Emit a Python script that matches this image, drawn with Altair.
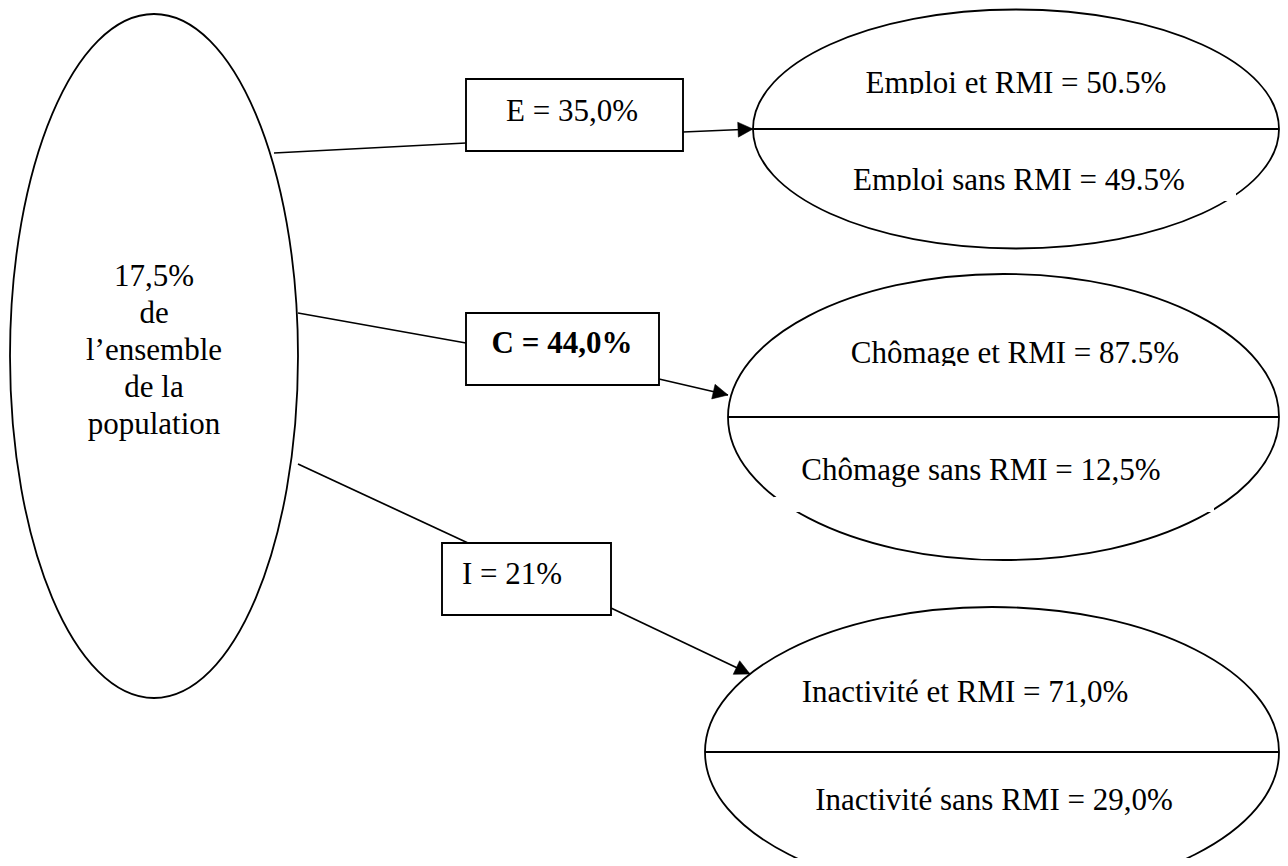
import math
import altair as alt
import pandas as pd

# ---------------- data (page-pixel layout of the diagram) ----------------
# ellipses: central population + three outcome ellipses
ell_name = ["Population", "Emploi", "Chômage", "Inactivité"]
ell_cx = [154, 1016, 1003.5, 992]
ell_cy = [356, 129, 417, 752]
ell_rx = [144, 263, 275.5, 287]
ell_ry = [342, 119.5, 143, 145]

# text of the central ellipse
center_lines = ["17,5%", "de", "l\u2019ensemble", "de la", "population"]
center_base = [286, 323, 360, 397, 434]

# branch boxes
box_label = ["E = 35,0%", "C = 44,0%", "I = 21%"]
box_bold = [False, True, False]
box_x0 = [466, 466, 442]
box_x1 = [683, 659, 611]
box_y0 = [79, 313, 543]
box_y1 = [151, 385, 615]
box_text_x = [572, 562, 512]
box_text_base = [121, 353, 584]

# connectors from the central ellipse to the boxes
conn_x = [274, 298, 298]
conn_y = [153, 313, 464]
conn_x2 = [466, 466, 468]
conn_y2 = [143, 343, 543]

# arrows from the boxes to the outcome ellipses
arr_x = [683, 659, 611]
arr_y = [132, 379, 608]
arr_tip_x = [753, 728, 750]
arr_tip_y = [129, 395, 674]

# texts inside the outcome ellipses
out_label = [
    "Emploi et RMI = 50.5%", "Emploi sans RMI = 49.5%",
    "Chômage et RMI = 87.5%", "Chômage sans RMI = 12,5%",
    "Inactivité et RMI = 71,0%", "Inactivité sans RMI = 29,0%",
]
out_x = [1016, 1019, 1015, 981, 965, 994]
out_base = [93, 190, 363, 480, 702, 810]

# white masks (clipped text boxes of the original)
mask_x0 = [840, 840, 840, 774]
mask_x1 = [1200, 1236, 1195, 1214]
mask_y0 = [94, 191, 366, 497]
mask_y1 = [104, 201, 376, 512]

FONT = "Liberation Serif"
FS = 31
W, H = 1272, 850

# ---------------- tables ----------------
K = 0.5522847


def ellipse_path(ratio):
    a, b = 1.0, ratio
    pts = [
        ("M", [a, 0]),
        ("C", [a, K * b, K * a, b, 0, b]),
        ("C", [-K * a, b, -a, K * b, -a, 0]),
        ("C", [-a, -K * b, -K * a, -b, 0, -b]),
        ("C", [K * a, -b, a, -K * b, a, 0]),
    ]
    s = " ".join(c + " " + " ".join(f"{v:.4f}" for v in vals) for c, vals in pts)
    return s + " Z"


ell_df = pd.DataFrame({
    "name": ell_name, "x": ell_cx, "y": ell_cy,
    "path": [ellipse_path(ry / rx) for rx, ry in zip(ell_rx, ell_ry)],
    "size": [(2 * rx) ** 2 for rx in ell_rx],
})

div_df = pd.DataFrame({
    "x": [c - r for c, r in zip(ell_cx[1:], ell_rx[1:])],
    "x2": [c + r for c, r in zip(ell_cx[1:], ell_rx[1:])],
    "y": ell_cy[1:], "y2": ell_cy[1:],
})

line_df = pd.DataFrame({
    "x": conn_x + arr_x, "y": conn_y + arr_y,
    "x2": conn_x2 + arr_tip_x, "y2": conn_y2 + arr_tip_y,
})

head_df = pd.DataFrame({
    "x": arr_tip_x, "y": arr_tip_y,
    "angle": [math.degrees(math.atan2(ty - y, tx - x)) % 360
              for x, y, tx, ty in zip(arr_x, arr_y, arr_tip_x, arr_tip_y)],
    "path": ["M 0 0 L -1 -0.5 L -1 0.5 Z"] * 3,
})

box_df = pd.DataFrame({
    "label": box_label, "bold": box_bold,
    "x": box_x0, "x2": box_x1, "y": box_y0, "y2": box_y1,
    "tx": box_text_x, "ty": box_text_base,
})

center_df = pd.DataFrame({"label": center_lines, "x": [154] * 5, "y": center_base})
out_df = pd.DataFrame({"label": out_label, "x": out_x, "y": out_base})
mask_df = pd.DataFrame({"x": mask_x0, "x2": mask_x1, "y": mask_y0, "y2": mask_y1})

# ---------------- chart ----------------
xs = alt.Scale(domain=[8, 8 + W], nice=False, zero=False)
ys = alt.Scale(domain=[8 + H, 8], nice=False, zero=False)


def X(f):
    return alt.X(f, type="quantitative", scale=xs, axis=None)


def Y(f):
    return alt.Y(f, type="quantitative", scale=ys, axis=None)


ellipses = alt.Chart(ell_df).mark_point(
    fill="white", stroke="black", strokeWidth=1.8, opacity=1, fillOpacity=1
).encode(
    x=X("x"), y=Y("y"),
    shape=alt.Shape("path:N", scale=None),
    size=alt.Size("size:Q", scale=None),
)

dividers = alt.Chart(div_df).mark_rule(color="black", strokeWidth=1.9).encode(
    x=X("x"), x2="x2", y=Y("y"), y2="y2"
)

lines = alt.Chart(line_df).mark_rule(color="black", strokeWidth=1.7).encode(
    x=X("x"), x2="x2", y=Y("y"), y2="y2"
)

heads = alt.Chart(head_df).mark_point(
    fill="black", stroke="black", strokeWidth=0.5, opacity=1, filled=True, size=900
).encode(
    x=X("x"), y=Y("y"),
    shape=alt.Shape("path:N", scale=None),
    angle=alt.Angle("angle:Q", scale=None),
)

boxes = alt.Chart(box_df).mark_rect(
    fill="white", stroke="black", strokeWidth=1.9
).encode(x=X("x"), x2="x2", y=Y("y"), y2="y2")

box_text = alt.Chart(box_df).transform_filter("!datum.bold").mark_text(
    font=FONT, fontSize=FS, baseline="alphabetic", align="center", color="black"
).encode(x=X("tx"), y=Y("ty"), text="label:N")

box_text_bold = alt.Chart(box_df).transform_filter("datum.bold").mark_text(
    font=FONT, fontSize=FS, fontWeight="bold", baseline="alphabetic",
    align="center", color="black"
).encode(x=X("tx"), y=Y("ty"), text="label:N")

center_text = alt.Chart(center_df).mark_text(
    font=FONT, fontSize=FS, baseline="alphabetic", align="center", color="black"
).encode(x=X("x"), y=Y("y"), text="label:N")

out_text = alt.Chart(out_df).mark_text(
    font=FONT, fontSize=FS, baseline="alphabetic", align="center", color="black"
).encode(x=X("x"), y=Y("y"), text="label:N")

masks = alt.Chart(mask_df).mark_rect(fill="white", strokeWidth=0).encode(
    x=X("x"), x2="x2", y=Y("y"), y2="y2"
)

chart = alt.layer(
    ellipses, dividers, lines, boxes, heads,
    box_text, box_text_bold, center_text, out_text, masks,
).properties(
    width=W, height=H, autosize="none", padding=0, background="white"
).configure_view(strokeWidth=0)

chart.save("out.html", embed_options={"renderer": "svg", "actions": False})
